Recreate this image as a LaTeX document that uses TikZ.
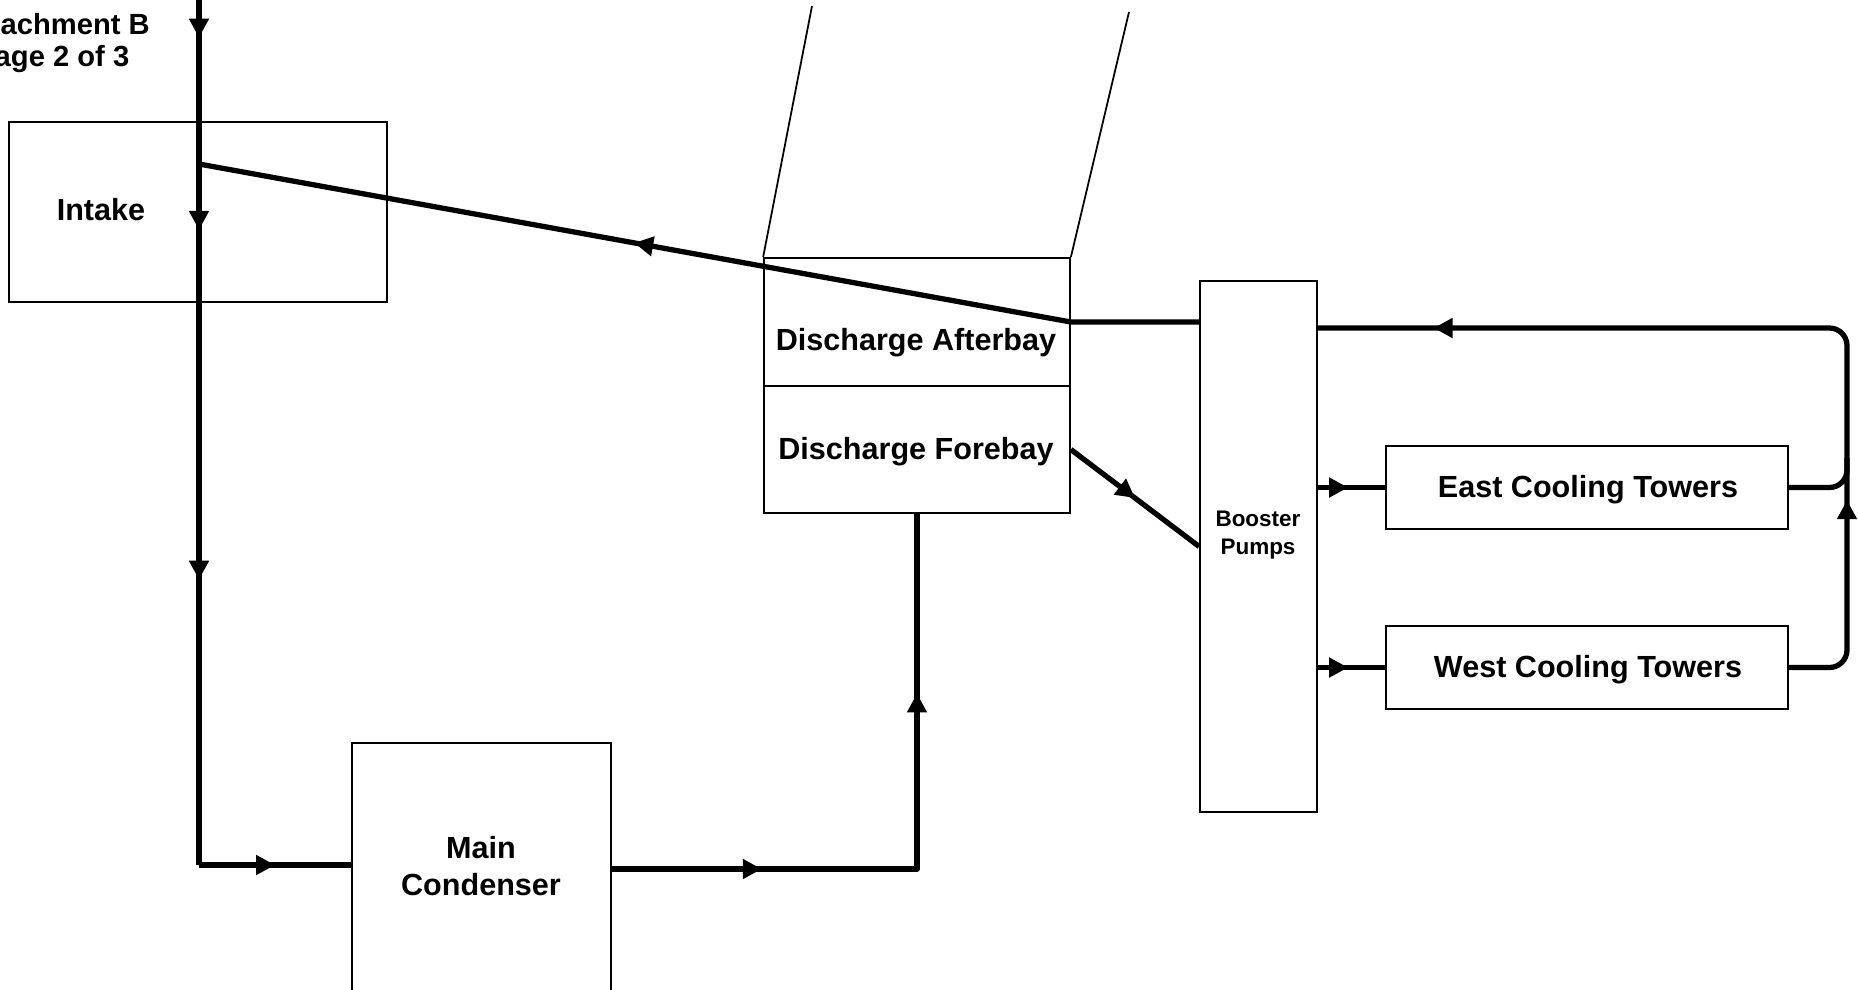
\documentclass[tikz,border=0pt]{standalone}
\usepackage{fontspec}
\setmainfont{Liberation Sans}
\usetikzlibrary{arrows.meta, positioning, decorations.markings, calc}

\begin{document}
\begin{tikzpicture}[
        box/.style={rectangle, draw=black, line width=0.5pt, inner sep=0pt},
        lbl/.style={font=\fontsize{8.7}{10.5}\selectfont\bfseries, align=center, inner sep=0pt},
        hdr/.style={font=\fontsize{8.3}{10}\selectfont\bfseries, inner sep=0pt},
        small/.style={font=\fontsize{6.4}{8}\selectfont\bfseries, align=center, inner sep=0pt},
        pipe/.style={line width=1.5pt, line join=round},
        wall/.style={line width=0.5pt},
        flowat/.style={postaction={decorate, decoration={markings,
            mark=at position #1 with {\arrow{Triangle[length=1.9mm, width=1.9mm]}}}}}
    ]

        \useasboundingbox (0,0) rectangle (18.58,-9.89);

        % --- header ---
        \node[hdr, anchor=west] (hdrA) at (0.0,-0.24) {achment B};
        \node[hdr, anchor=east] (hdrB) at (1.30,-0.59) {age 2 of 3};

        % --- boxes ---
        \node[box, minimum width=3.78cm, minimum height=1.80cm] (intake)   at (1.98,-2.12) {};
        \node[box, minimum width=3.06cm, minimum height=1.28cm] (afterbay) at (9.17,-3.22) {};
        \node[box, minimum width=3.06cm, minimum height=1.27cm] (forebay)  at (9.17,-4.495) {};
        \node[box, minimum width=2.59cm, minimum height=2.77cm] (cond)     at (4.815,-8.815) {};
        \node[box, minimum width=1.17cm, minimum height=5.31cm] (booster)  at (12.585,-5.465) {};
        \node[box, minimum width=4.02cm, minimum height=0.83cm] (east)     at (15.87,-4.875) {};
        \node[box, minimum width=4.02cm, minimum height=0.83cm] (west)     at (15.87,-6.675) {};

        \node[lbl]   (intaketxt)   at (1.01,-2.10)   {Intake};
        \node[lbl]   (afterbaytxt) at (9.16,-3.425)  {Discharge Afterbay};
        \node[lbl]   (forebaytxt)  at (9.16,-4.515)  {Discharge Forebay};
        \node[lbl]   (condtxt)     at (4.81,-8.66)   {Main\\Condenser};
        \node[small] (boostertxt)  at (12.58,-5.35)  {Booster\\Pumps};
        \node[lbl]   (easttxt)     at (15.88,-4.895) {East Cooling Towers};
        \node[lbl]   (westtxt)     at (15.88,-6.695) {West Cooling Towers};

        % --- discharge channel walls ---
        \draw[wall] (afterbay.north west) -- (8.12,-0.06);
        \draw[wall] (afterbay.north east) -- (11.29,-0.12);

        % --- intake to condenser ---
        \coordinate (src)  at (1.99,0.05);
        \coordinate (bend) at (1.99,-8.65);
        \draw[pipe, flowat=0.049, flowat=0.27, flowat=0.672] (src) -- (bend);
        \draw[pipe, flowat=0.5] (bend) -- (cond.west |- bend);

        % --- condenser to forebay ---
        \coordinate (riser) at (forebay.south |- 0,-8.69);
        \draw[pipe, flowat=0.227, flowat=0.728] (cond.east |- riser) -- (riser) -- (forebay.south);

        % --- forebay to booster pumps ---
        \draw[pipe, flowat=0.5] (forebay.east) -- (booster.west);

        % --- booster pumps to towers ---
        \draw[pipe, flowat=0.45] (booster.east |- east.west) -- (east.west);
        \draw[pipe, flowat=0.45] (booster.east |- west.west) -- (west.west);

        % --- tower return ---
        \coordinate (rtop) at (18.47,-3.28);
        \coordinate (rbot) at (18.47,-6.675);
        \draw[pipe, rounded corners=5pt, flowat=0.239, flowat=0.873]
            (west.east) -- (rbot) -- (rtop) -- (booster.east |- rtop);
        \draw[pipe, rounded corners=5pt]
            (east.east) -- (east.east -| rtop) -- ($(east.east -| rtop)+(0,0.3)$);

        % --- afterbay back to intake ---
        \coordinate (junction) at (1.99,-1.64);
        \draw[pipe, flowat=0.564] (booster.west |- afterbay.east) -- (afterbay.east) -- (junction);

    \end{tikzpicture}
\end{document}
